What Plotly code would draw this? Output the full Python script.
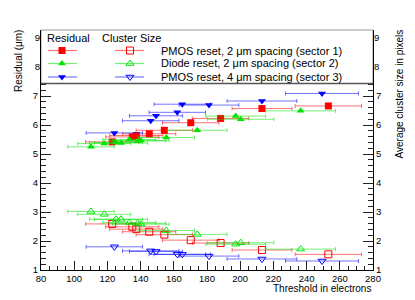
import plotly.graph_objects as go

# ---------------- data ----------------
sector1_threshold = [122.9, 135.0, 137.4, 145.2, 154.3, 170.2, 188.2, 213.1, 253.1]
sector1_threshold_err = [16, 16, 16, 16, 17, 17, 17, 18, 20]
sector1_residual = [5.42, 5.59, 5.64, 5.70, 5.82, 6.08, 6.23, 6.57, 6.66]
sector1_cluster = [2.59, 2.49, 2.41, 2.32, 2.22, 2.03, 1.93, 1.69, 1.54]

sector2_threshold = [110.1, 118.1, 125.2, 128.2, 133.2, 138.2, 140.2, 155.5, 174.1, 197.3, 200.3, 236.4]
sector2_threshold_err = [14, 16, 16, 16, 16, 17, 17, 17, 18, 18, 20, 21]
sector2_residual = [5.25, 5.36, 5.40, 5.38, 5.50, 5.45, 5.47, 5.57, 5.82, 6.31, 6.20, 6.49]
sector2_cluster = [3.02, 2.92, 2.75, 2.75, 2.64, 2.61, 2.58, 2.36, 2.23, 1.89, 1.94, 1.72]

sector3_threshold = [124.2, 146.1, 149.3, 162.1, 165.1, 181.2, 213.1, 249.3]
sector3_threshold_err = [17, 17, 16, 17, 17, 18, 21, 22]
sector3_residual = [5.73, 6.15, 6.32, 6.44, 6.72, 6.69, 6.83, 7.09]
sector3_cluster = [1.80, 1.66, 1.64, 1.54, 1.54, 1.48, 1.38, 1.31]

series_labels = ["PMOS reset, 2 μm spacing (sector 1)",
                 "Diode reset, 2 μm spacing (sector 2)",
                 "PMOS reset, 4 μm spacing (sector 3)"]
legend_headers = ["Residual", "Cluster Size"]
x_title = "Threshold in electrons"
y_title = "Residual (μm)"
y2_title = "Average cluster size in pixels"

x_range = [80, 280]
y_range = [1, 9.28]
y_major = [1, 2, 3, 4, 5, 6, 7]
y_major_hidden = [8, 9]
y_minor = [round(1 + 0.2 * k, 1) for k in range(33) if (k % 5) != 0]

# ---------------- style ----------------
W, H = 415, 300
ML, MR, MT, MB = 41, 42, 30, 30
PW, PH = W - ML - MR, H - MT - MB
FONT = "Liberation Sans, Arial, sans-serif"

colors = ["#ff0000", "#00e600", "#0000ff"]
err_colors = ["rgba(255,0,0,0.55)", "rgba(0,230,0,0.55)", "rgba(0,0,255,0.55)"]
filled_symbols = ["square", "triangle-up", "triangle-down"]
open_symbols = ["square-open", "triangle-up-open", "triangle-down-open"]
sizes = [7, 7, 7]

series = [
    (sector1_threshold, sector1_threshold_err, sector1_residual, sector1_cluster),
    (sector2_threshold, sector2_threshold_err, sector2_residual, sector2_cluster),
    (sector3_threshold, sector3_threshold_err, sector3_residual, sector3_cluster),
]

fig = go.Figure()

for i, (xs, xe, res, clu) in enumerate(series):
    fig.add_trace(go.Scatter(
        x=xs, y=res, mode="markers", xaxis="x", yaxis="y", showlegend=False,
        marker=dict(symbol=filled_symbols[i], size=sizes[i], color=colors[i],
                    line=dict(width=0)),
        error_x=dict(type="data", array=xe, color=err_colors[i], thickness=1, width=2),
    ))
    fig.add_trace(go.Scatter(
        x=xs, y=clu, mode="markers", xaxis="x", yaxis="y2", showlegend=False,
        marker=dict(symbol=open_symbols[i], size=sizes[i], color=colors[i],
                    line=dict(width=1, color=colors[i])),
        error_x=dict(type="data", array=xe, color=err_colors[i], thickness=1, width=2),
    ))

# empty traces so the label-only overlay axes are drawn
for ax in ["y3", "y4"]:
    fig.add_trace(go.Scatter(x=[None], y=[None], xaxis="x", yaxis=ax, mode="markers",
                             showlegend=False, hoverinfo="skip"))

# ---------------- legend (drawn on a hidden 0..1 overlay axis) ----------------
def px2lx(px):
    return (px - ML) / PW

def px2ly(py):
    return (MT + PH - py) / PH

row_y = [50.5, 63.5, 77.0]
for i in range(3):
    ly = px2ly(row_y[i])
    for (x0, x1, xc, sym, lw) in [(48, 77, 62, filled_symbols[i], 0),
                                  (115, 144, 130, open_symbols[i], 1)]:
        fig.add_trace(go.Scatter(
            x=[px2lx(x0), px2lx(x1)], y=[ly, ly], mode="lines", xaxis="x2", yaxis="y5",
            showlegend=False, hoverinfo="skip",
            line=dict(color=err_colors[i], width=1.2),
        ))
        fig.add_trace(go.Scatter(
            x=[px2lx(xc)], y=[ly], mode="markers", xaxis="x2", yaxis="y5",
            showlegend=False, hoverinfo="skip",
            marker=dict(symbol=sym, size=sizes[i], color=colors[i],
                        line=dict(width=lw, color=colors[i])),
        ))

annotations = []
annotations.append(dict(x=px2lx(45), y=px2ly(38), xref="paper", yref="paper",
                        text=legend_headers[0], showarrow=False, xanchor="left",
                        yanchor="middle", font=dict(family=FONT, size=11, color="black")))
annotations.append(dict(x=px2lx(100), y=px2ly(38), xref="paper", yref="paper",
                        text=legend_headers[1], showarrow=False, xanchor="left",
                        yanchor="middle", font=dict(family=FONT, size=11, color="black")))
for i in range(3):
    annotations.append(dict(x=px2lx(159), y=px2ly(row_y[i]), xref="paper", yref="paper",
                            text=series_labels[i], showarrow=False, xanchor="left",
                            yanchor="middle", font=dict(family=FONT, size=11, color="black")))

# axis titles
annotations.append(dict(x=1.0, y=px2ly(288), xref="paper", yref="paper", text=x_title,
                        showarrow=False, xanchor="right", yanchor="middle",
                        font=dict(family=FONT, size=10, color="black")))
annotations.append(dict(x=px2lx(18), y=px2ly(28), xref="paper", yref="paper", text=y_title,
                        showarrow=False, xanchor="center", yanchor="top", textangle=-90,
                        font=dict(family=FONT, size=10, color="black")))
annotations.append(dict(x=px2lx(399), y=px2ly(28), xref="paper", yref="paper", text=y2_title,
                        showarrow=False, xanchor="center", yanchor="top", textangle=-90,
                        font=dict(family=FONT, size=10, color="black")))

shapes = [
    dict(type="rect", xref="paper", yref="paper", x0=0, x1=1, y0=px2ly(83.5), y1=1,
         fillcolor="white", line=dict(color="#999999", width=1), layer="below"),
    dict(type="line", xref="paper", yref="paper", x0=0, x1=1, y0=px2ly(83.5), y1=px2ly(83.5),
         line=dict(color="#555555", width=1.5), layer="above"),
]

tickfont = dict(family=FONT, size=9.5, color="black")
common_y = dict(range=y_range, showgrid=False, zeroline=False, fixedrange=True)

fig.update_layout(
    width=W, height=H,
    margin=dict(l=ML, r=MR, t=MT, b=MB),
    paper_bgcolor="white", plot_bgcolor="white",
    showlegend=False,
    annotations=annotations,
    shapes=shapes,
    xaxis=dict(range=x_range, tickmode="linear", tick0=80, dtick=20,
               ticks="inside", ticklen=9, tickcolor="#222", tickwidth=1,
               showline=True, linecolor="black", linewidth=1,
               showgrid=False, zeroline=False, tickfont=tickfont, fixedrange=True,
               minor=dict(dtick=5, tick0=80, ticks="inside", ticklen=4,
                          tickcolor="#222", showgrid=False)),
    xaxis2=dict(range=[0, 1], overlaying="x", visible=False, fixedrange=True),
    yaxis=dict(common_y, tickmode="array", tickvals=y_major, ticks="inside", ticklen=10,
               tickcolor="#222", showline=True, linecolor="black", linewidth=1,
               tickfont=tickfont,
               minor=dict(tickvals=y_minor, ticks="inside", ticklen=5,
                          tickcolor="#222", showgrid=False)),
    yaxis2=dict(common_y, overlaying="y", side="right", tickmode="array", tickvals=y_major,
                ticks="inside", ticklen=10, tickcolor="#222", showline=True,
                linecolor="black", linewidth=1, tickfont=tickfont,
                minor=dict(tickvals=y_minor, ticks="inside", ticklen=5,
                           tickcolor="#222", showgrid=False)),
    yaxis3=dict(common_y, overlaying="y", side="left", tickmode="array",
                tickvals=y_major_hidden, ticks="", showline=False, tickfont=tickfont),
    yaxis4=dict(common_y, overlaying="y", side="right", tickmode="array",
                tickvals=y_major_hidden, ticks="", showline=False, tickfont=tickfont),
    yaxis5=dict(range=[0, 1], overlaying="y", visible=False, fixedrange=True),
)

fig.write_html("out.html",
               config={"displayModeBar": False},
               post_script="document.body.style.margin='0';document.body.style.overflow='hidden';")
